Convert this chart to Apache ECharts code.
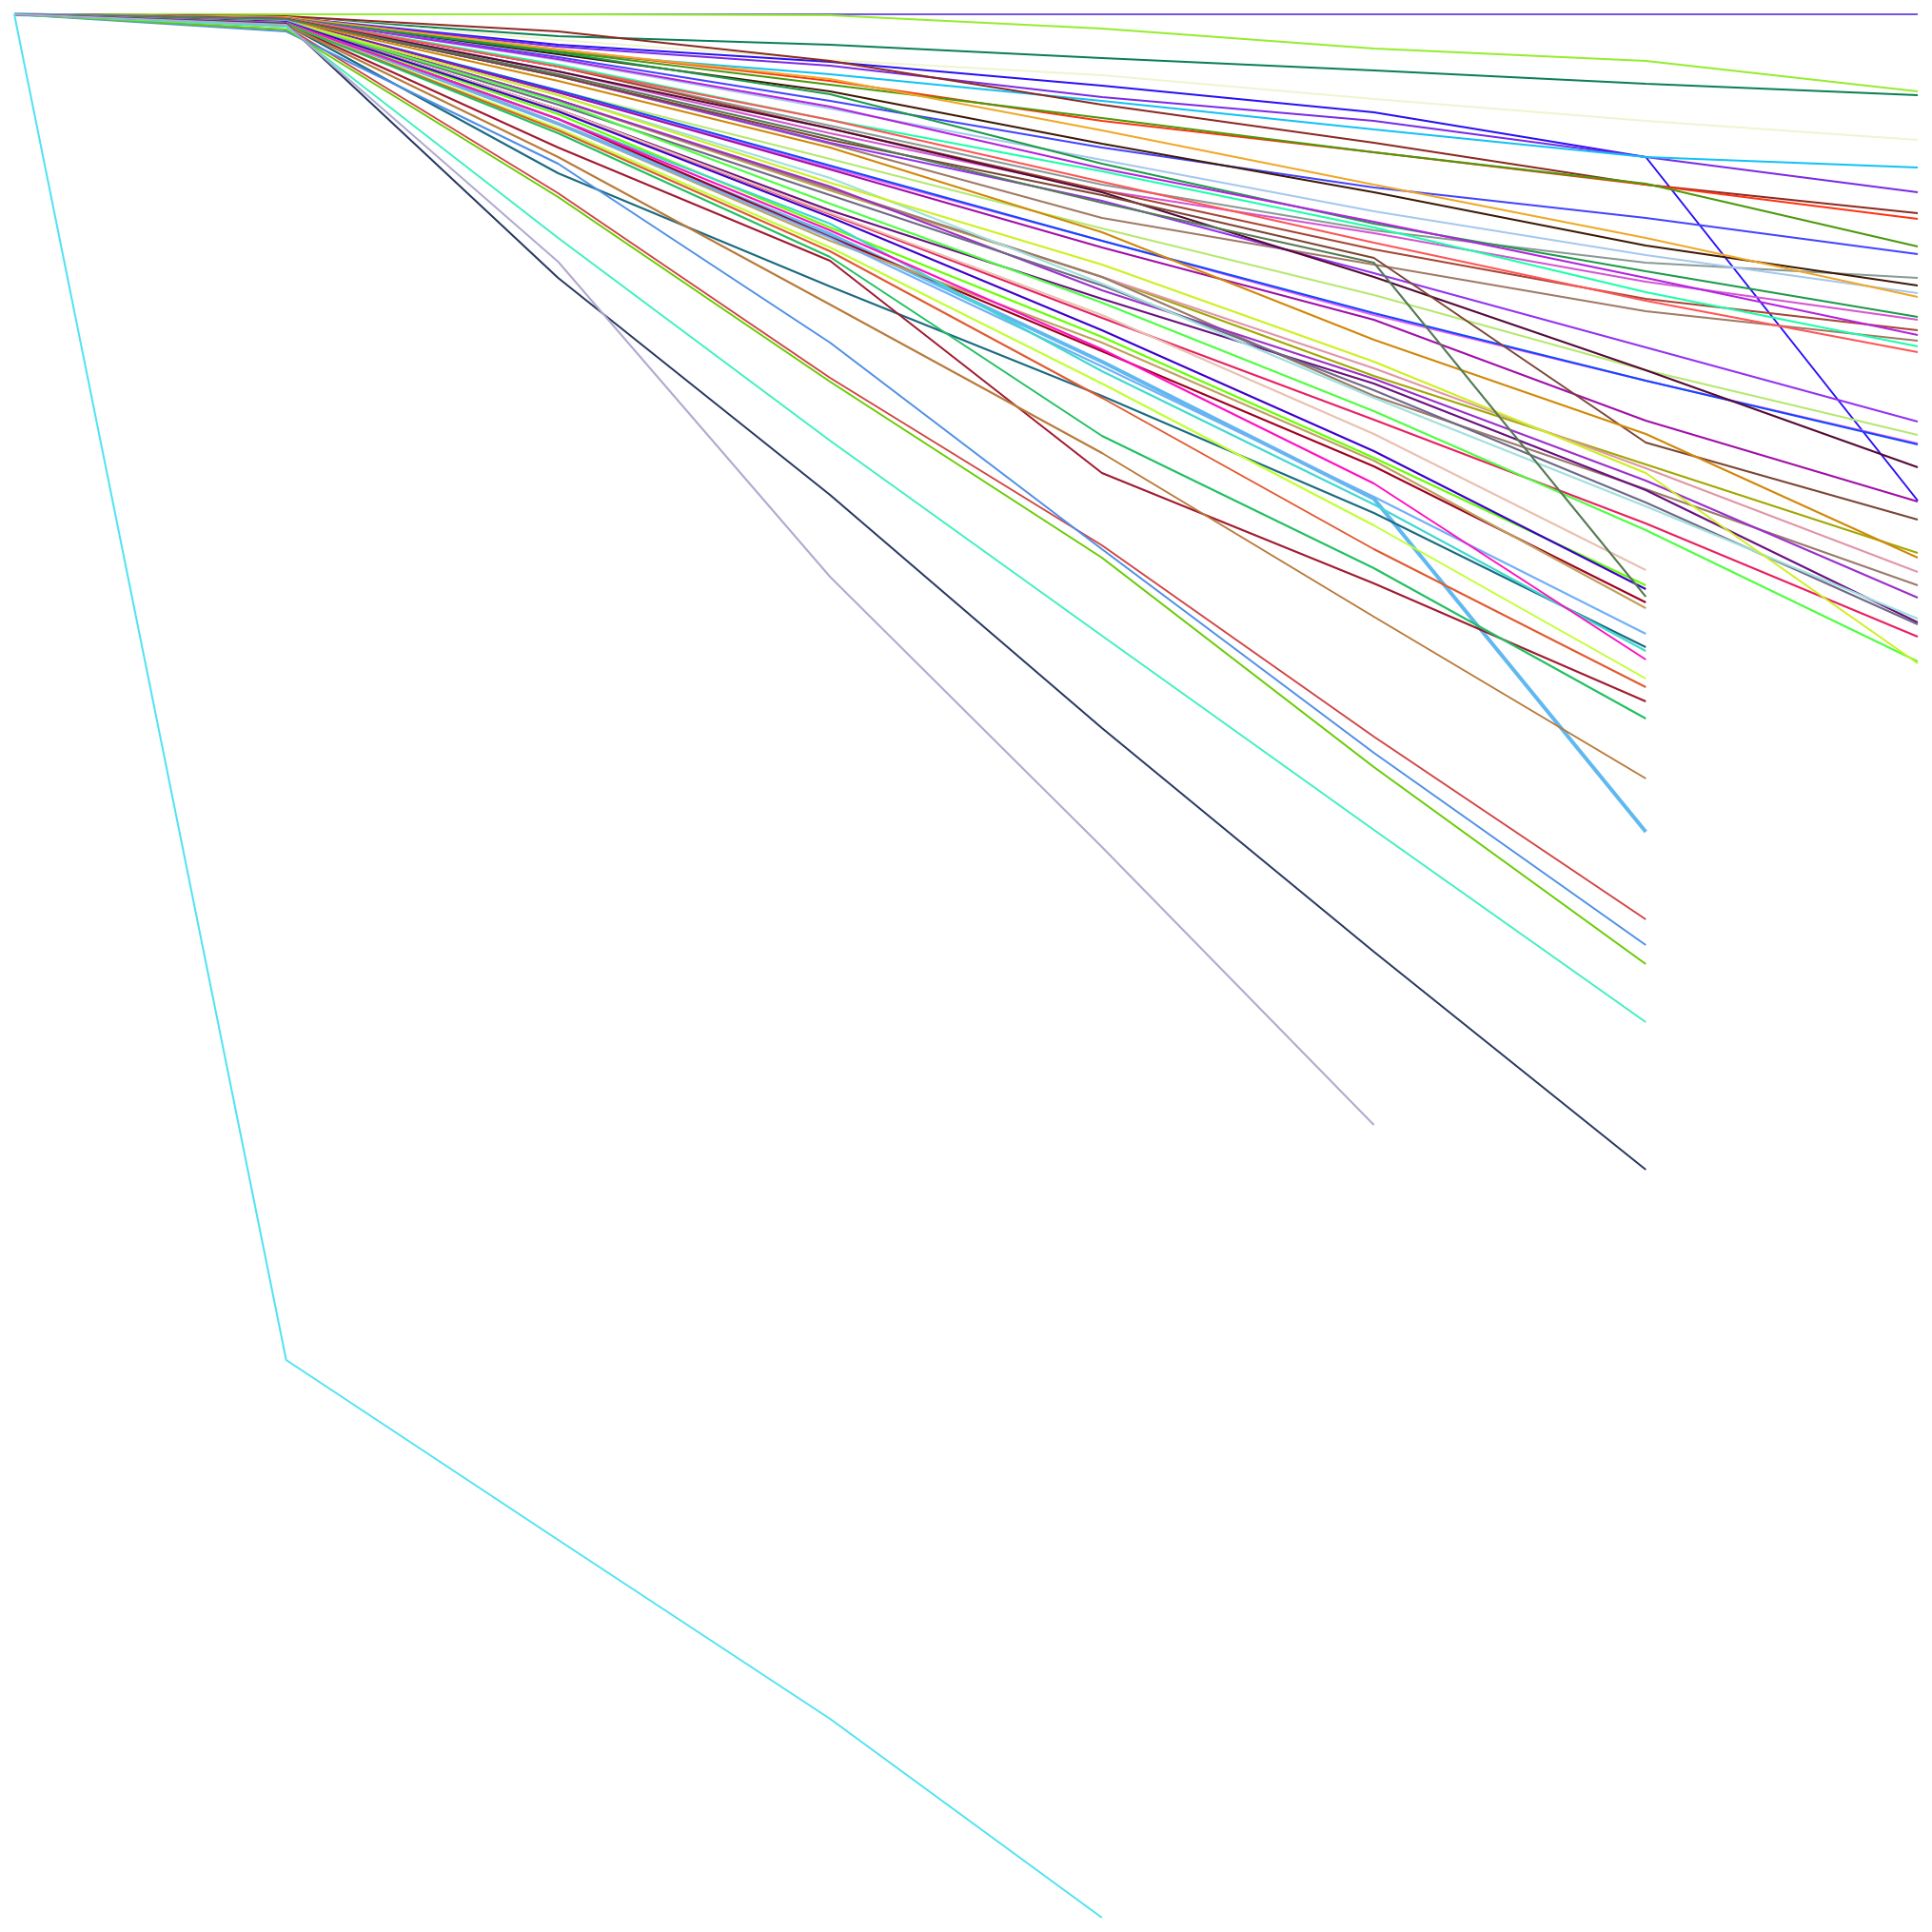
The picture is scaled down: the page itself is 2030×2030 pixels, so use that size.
<!DOCTYPE html>
<html>
<head>
<meta charset="utf-8">
<script src="https://cdn.jsdelivr.net/npm/echarts@6/dist/echarts.min.js"></script>
<style>
  html, body { margin: 0; padding: 0; background: #fff; }
  #chart { width: 2030px; height: 2030px; }
</style>
</head>
<body>
<div id="chart"></div>
<script>
// categories along the x axis (8 steps)
const categories = ['0', '1', '2', '3', '4', '5', '6', '7'];

// values (axis runs downward from 0 to 100)
// lines that run to the last step
const sPurpleTop   = [0, 0, 0, 0, 0, 0, 0, 0];
const sLime        = [0, 0, 0, 0.05, 0.75, 1.8, 2.45, 4.05];
const sTealGreen   = [0, 0.15, 1.15, 1.6, 2.3, 2.95, 3.65, 4.25];
const sCream       = [0, 0.15, 1.35, 2.4, 3.2, 4.45, 5.6, 6.6];
const sBlueDrop    = [0, 0.15, 1.6, 2.5, 3.75, 5.15, 7.5, 25.55];
const sPurple      = [0, 0.15, 1.7, 2.7, 4.35, 5.6, 7.5, 9.35];
const sCyan        = [0, 0.2, 2, 3.15, 4.55, 6.05, 7.5, 8.05];
const sDarkRed     = [0, 0.1, 0.9, 2.45, 4.75, 6.75, 8.95, 10.45];
const sRedOrange   = [0, 0.15, 1.85, 3.5, 5.6, 7.25, 8.95, 10.75];
const sOliveGreen  = [0, 0.15, 1.95, 3.7, 5.45, 7.25, 8.9, 12.2];
const sBlue        = [0, 0.2, 2.25, 4.55, 7, 9.1, 10.7, 12.6];
const sGray        = [0, 0.2, 2.75, 5.85, 8.95, 11.35, 13.05, 13.85];
const sDarkBrown   = [0, 0.15, 2.1, 4.05, 6.8, 9.35, 12.15, 14.25];
const sLightBlue   = [0, 0.15, 2.4, 4.95, 7.65, 10.35, 12.65, 14.65];
const sOrange      = [0, 0.15, 1.85, 3.4, 6.1, 8.95, 11.75, 14.85];
const sGreen       = [0, 0.2, 2, 4.2, 7.85, 11, 13.5, 15.9];
const sOrchid      = [0, 0.2, 3, 6.25, 9.25, 11.5, 14.05, 16.05];
const sMaroon      = [0, 0.2, 2.75, 6, 9.25, 12.35, 14.95, 16.6];
const sViolet      = [0, 0.2, 2.35, 4.85, 8.1, 10.9, 13.85, 16.85];
const sTanBrown    = [0, 0.25, 3.25, 6.8, 10.7, 13.15, 15.6, 17.15];
const sSpring      = [0, 0.2, 2.65, 5.55, 8.25, 11.2, 14.6, 17.45];
const sSalmon      = [0, 0.2, 2.75, 5.55, 8.8, 12, 15.05, 17.75];
const sBlueViolet  = [0, 0.25, 3.25, 6.75, 9.8, 13.6, 17.5, 21.4];
const sLightGreen  = [0, 0.3, 4, 7.6, 11.25, 14.75, 18.7, 22.1];
const sPinkMagenta = [0, 0.3, 4.1, 8.05, 11.9, 15.8, 19.25, 22.55];
const sRoyalBlue   = [0, 0.3, 4, 7.95, 11.9, 15.7, 19.25, 22.6];
const sPlum        = [0, 0.25, 3, 6, 9.35, 13.8, 18.7, 23.8];
const sMagPurple   = [0, 0.3, 4.1, 8.15, 12.25, 16.05, 21.35, 25.6];
const sBrown       = [0, 0.25, 3.25, 6.6, 9.5, 12.8, 22.5, 26.55];
const sOlive       = [0, 0.35, 4.5, 9.25, 13.8, 19, 23.65, 28.3];
const sDarkOrange  = [0, 0.3, 3.5, 7, 11.45, 17.1, 22.05, 28.55];
const sPink        = [0, 0.35, 4.5, 9.2, 13.8, 18.6, 23.85, 29.3];
const sBrownGray   = [0, 0.35, 4.5, 9.15, 13.8, 20.05, 24.95, 30];
const sMidPurple   = [0, 0.35, 4.5, 9.05, 14.5, 19.15, 24.5, 30.65];
const sDarkPurple  = [0, 0.4, 5, 10.3, 14.95, 19.4, 25, 31.95];
const sSlate       = [0, 0.35, 4.75, 9.5, 14.25, 19.75, 25.65, 32.05];
const sLightTeal   = [0, 0.35, 4.25, 8.6, 14.15, 20.15, 25.85, 31.75];
const sCrimson     = [0, 0.4, 5, 10.5, 15.95, 21.3, 26.75, 32.7];
const sBrightGreen = [0, 0.35, 4.6, 9.95, 15.15, 20.85, 27.1, 34];
const sYellowGreen = [0, 0.35, 4.25, 8.85, 13.15, 18.25, 24.1, 34.1];

// lines that stop one step early
const eBeige       = [0, 0.4, 5, 10.45, 15.8, 22.05, 29.2];
const eChartreuse  = [0, 0.4, 5.25, 11.2, 16.95, 23.3, 30];
const eIndigo      = [0, 0.4, 5.1, 10.65, 16.6, 22.95, 30.2];
const eGrayGreen   = [0, 0.25, 3.15, 6.45, 9.9, 13.05, 30.6];
const eDarkRed     = [0, 0.45, 5.5, 11.7, 17.7, 23.75, 30.9];
const eTan         = [0, 0.45, 5.75, 11.9, 17.25, 23.45, 31.2];
const eBabyBlue    = [0, 0.35, 5.75, 11.55, 18.25, 25.45, 42.95];
const eSkyBlue     = [0, 0.45, 5.75, 11.75, 18.5, 25.35, 32.55];
const eTealDark    = [0, 0.55, 8.35, 14.3, 20.05, 26.2, 33.25];
const eTurquoise   = [0, 0.45, 5.5, 11, 18.75, 25.75, 33.45];
const eMagenta     = [0, 0.45, 5.5, 11.35, 17.6, 24.65, 33.9];
const eLimeYellow  = [0, 0.5, 6, 12.25, 19.4, 26.85, 34.9];
const eOrangeRed   = [0, 0.5, 6.1, 12.45, 20.15, 28.1, 35.35];
const eCrimsonDark = [0, 0.5, 7, 12.95, 24.1, 29.9, 36.1];
const eSeaGreen    = [0, 0.5, 6.25, 12.75, 22.15, 29.1, 37];
const eCopper      = [0, 0.55, 7.5, 15.25, 23.05, 31.65, 40.15];
const eRed         = [0, 0.65, 9.4, 19.1, 27.9, 37.95, 47.55];
const eCornflower  = [0, 0.9, 7.85, 17.25, 28.1, 38.8, 48.9];
const eGrassGreen  = [0, 0.8, 9.6, 19.3, 28.55, 39.55, 49.9];
const eAquamarine  = [0, 0.65, 11.75, 22.4, 32.65, 42.85, 52.95];
const eNavy        = [0, 0.5, 13.85, 25.25, 37.5, 49.25, 60.7];
// shorter lines
const eLavender    = [0, 0.55, 13, 29.55, 43.75, 58.35];
const eAqua        = [0, 70.7, 80.15, 89.55, 100];

const lines = [
  ['sPurpleTop', sPurpleTop, '#7557e3'],
  ['sLime', sLime, '#96ec30'],
  ['sTealGreen', sTealGreen, '#0a7f55'],
  ['sCream', sCream, '#eef5cf'],
  ['sBlueDrop', sBlueDrop, '#2a10f5'],
  ['sPurple', sPurple, '#7b2be6'],
  ['sCyan', sCyan, '#12c2f5'],
  ['sDarkRed', sDarkRed, '#8b2a22'],
  ['sRedOrange', sRedOrange, '#ff3311'],
  ['sOliveGreen', sOliveGreen, '#4a9a0a'],
  ['sBlue', sBlue, '#4444ff'],
  ['sGray', sGray, '#8a9a95'],
  ['sDarkBrown', sDarkBrown, '#3d1a05'],
  ['sLightBlue', sLightBlue, '#a5c8ee'],
  ['sOrange', sOrange, '#f0a828'],
  ['sGreen', sGreen, '#1e9a4a'],
  ['sOrchid', sOrchid, '#d455d4'],
  ['sMaroon', sMaroon, '#a84535'],
  ['sViolet', sViolet, '#b522e0'],
  ['sTanBrown', sTanBrown, '#a07a65'],
  ['sSpring', sSpring, '#1cffaa'],
  ['sSalmon', sSalmon, '#ff5555'],
  ['sBlueViolet', sBlueViolet, '#9333f0'],
  ['sLightGreen', sLightGreen, '#b5e870'],
  ['sPinkMagenta', sPinkMagenta, '#f060f0'],
  ['sRoyalBlue', sRoyalBlue, '#1048ff'],
  ['sPlum', sPlum, '#550a35'],
  ['sMagPurple', sMagPurple, '#a010a8'],
  ['sBrown', sBrown, '#7a4535'],
  ['sOlive', sOlive, '#a0a800'],
  ['sDarkOrange', sDarkOrange, '#d08808'],
  ['sPink', sPink, '#e096a8'],
  ['sBrownGray', sBrownGray, '#9a7a6a'],
  ['sMidPurple', sMidPurple, '#9a30c8'],
  ['sDarkPurple', sDarkPurple, '#6a1080'],
  ['sSlate', sSlate, '#706888'],
  ['sLightTeal', sLightTeal, '#a0e0dc'],
  ['sCrimson', sCrimson, '#e82060'],
  ['sBrightGreen', sBrightGreen, '#4cff40'],
  ['sYellowGreen', sYellowGreen, '#ccf020'],
  ['eBabyBlue', eBabyBlue, '#60b8f0'],
  ['eBeige', eBeige, '#e8c0b0'],
  ['eChartreuse', eChartreuse, '#66ff00'],
  ['eIndigo', eIndigo, '#3a00cc'],
  ['eGrayGreen', eGrayGreen, '#557a55'],
  ['eDarkRed', eDarkRed, '#a00020'],
  ['eTan', eTan, '#c0a060'],
  ['eSkyBlue', eSkyBlue, '#70b0f5'],
  ['eTealDark', eTealDark, '#1a6a80'],
  ['eTurquoise', eTurquoise, '#40d8d0'],
  ['eMagenta', eMagenta, '#ff10c0'],
  ['eLimeYellow', eLimeYellow, '#c0ff30'],
  ['eOrangeRed', eOrangeRed, '#e05a30'],
  ['eCrimsonDark', eCrimsonDark, '#a01a30'],
  ['eSeaGreen', eSeaGreen, '#20c060'],
  ['eCopper', eCopper, '#b87a3a'],
  ['eRed', eRed, '#d04545'],
  ['eCornflower', eCornflower, '#4f8fe6'],
  ['eGrassGreen', eGrassGreen, '#66cc00'],
  ['eAquamarine', eAquamarine, '#40f0c0'],
  ['eNavy', eNavy, '#283860'],
  ['eLavender', eLavender, '#b0aad0'],
  ['eAqua', eAqua, '#50e3f2']
];

const chart = echarts.init(document.getElementById('chart'), null, { renderer: 'canvas' });

const option = {
  animation: false,
  backgroundColor: '#ffffff',
  grid: { left: 15, right: 15, top: 15, bottom: 15 },
  xAxis: {
    type: 'category',
    data: categories,
    boundaryGap: false,
    show: false
  },
  yAxis: {
    type: 'value',
    inverse: true,
    min: 0,
    max: 100,
    show: false
  },
  series: lines.map(function (l) {
    return {
      name: l[0],
      type: 'line',
      data: l[1],
      symbol: 'none',
      lineStyle: { color: l[2], width: l[0] === 'eBabyBlue' ? 4 : 2 },
      itemStyle: { color: l[2] }
    };
  })
};

chart.setOption(option);
</script>
</body>
</html>
